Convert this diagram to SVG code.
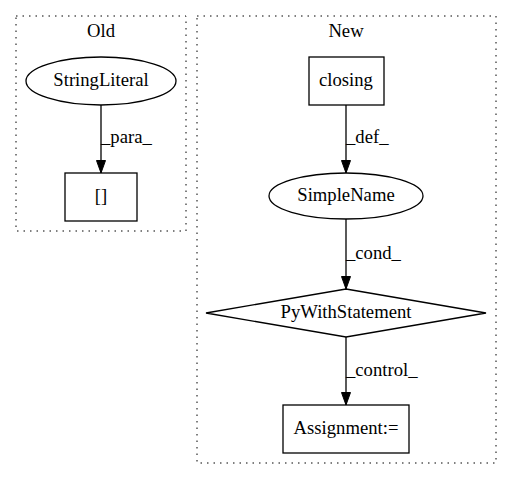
<svg xmlns="http://www.w3.org/2000/svg" width="512" height="480" viewBox="0 0 512 480">
<style>
text{font-family:"Liberation Serif","Times New Roman",serif;font-size:18.67px;fill:#000}
.c{text-anchor:middle}
.cl{fill:none;stroke:#000;stroke-dasharray:1.5,5}
.n{fill:none;stroke:#000;stroke-width:1.3}
.e{stroke:#000;stroke-width:1.3;fill:none}
</style>
<defs>
<marker id="a" markerWidth="14" markerHeight="11" refX="13" refY="5" orient="auto" markerUnits="userSpaceOnUse">
<path d="M0.5,0.5 L13,5 L0.5,9.5 Z" fill="#000" stroke="#000" stroke-width="1"/>
</marker>
</defs>
<rect width="512" height="480" fill="#fff"/>
<g id="cluster_old">
<rect class="cl" x="16" y="16" width="170" height="215"/>
<text class="c" x="101" y="37">Old</text>
</g>
<g id="cluster_new">
<rect class="cl" x="197" y="16" width="299" height="447"/>
<text class="c" x="346" y="37">New</text>
</g>
<g id="connectors">
<line class="e" x1="101" y1="105" x2="101" y2="173" marker-end="url(#a)"/>
<text x="101" y="143">_para_</text>
<line class="e" x1="346" y1="105" x2="346" y2="173" marker-end="url(#a)"/>
<text x="346" y="143">_def_</text>
<line class="e" x1="346" y1="219" x2="346" y2="289" marker-end="url(#a)"/>
<text x="346" y="259">_cond_</text>
<line class="e" x1="346" y1="337" x2="346" y2="405" marker-end="url(#a)"/>
<text x="346" y="376">_control_</text>
</g>
<g id="StringLiteral">
<ellipse class="n" cx="101" cy="81" rx="75" ry="24"/>
<text class="c" x="101" y="86">StringLiteral</text>
</g>
<g id="brackets">
<rect class="n" x="65" y="173" width="72" height="48"/>
<text class="c" x="101" y="202">[]</text>
</g>
<g id="closing">
<rect class="n" x="309" y="57" width="75" height="48"/>
<text class="c" x="346" y="86">closing</text>
</g>
<g id="SimpleName">
<ellipse class="n" cx="346" cy="196" rx="77" ry="23"/>
<text class="c" x="346" y="201">SimpleName</text>
</g>
<g id="PyWithStatement">
<polygon class="n" points="346,289 486,313 346,337 206,313"/>
<text class="c" x="346" y="318">PyWithStatement</text>
</g>
<g id="Assignment">
<rect class="n" x="283" y="405" width="126" height="48"/>
<text class="c" x="346" y="434">Assignment:=</text>
</g>
</svg>
